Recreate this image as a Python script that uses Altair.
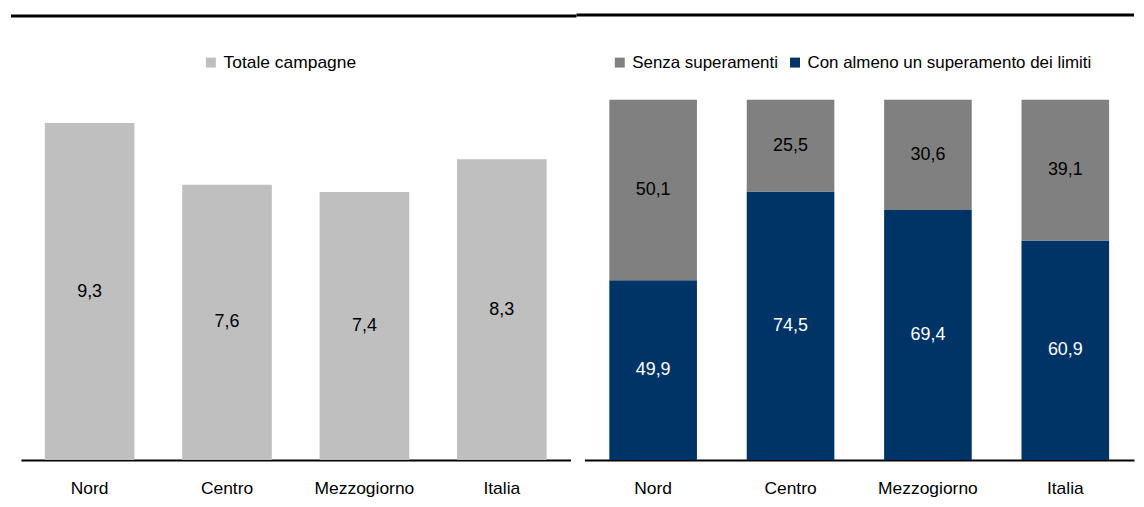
import altair as alt
import pandas as pd

regions = ["Nord", "Centro", "Mezzogiorno", "Italia"]
totale = [9.3, 7.6, 7.4, 8.3]
senza = [50.1, 25.5, 30.6, 39.1]
con = [49.9, 74.5, 69.4, 60.9]

s_tot = "Totale campagne"
s_senza = "Senza superamenti"
s_con = "Con almeno un superamento dei limiti"

FONT = "Liberation Sans, Arial, sans-serif"
FS = 17.5
GRAY_L = "#BFBFBF"
GRAY_D = "#808080"
NAVY = "#003366"

W, H = 552, 364

left_df = pd.DataFrame({"area": regions, "value": totale, "serie": [s_tot] * 4})
rows = []
for r, a, b in zip(regions, con, senza):
    rows.append({"area": r, "value": a, "serie": s_con, "ord": 0})
    rows.append({"area": r, "value": b, "serie": s_senza, "ord": 1})
right_df = pd.DataFrame(rows)
one = pd.DataFrame({"k": [0]})

lbl = "replace(format(datum.value, '.1f'), '.', ',')"

xaxis = alt.Axis(title=None, labelAngle=0, ticks=False, tickSize=0, domainColor="black",
                 domainWidth=2, labelFontSize=FS, labelColor="black", labelPadding=20,
                 labelFont=FONT)

def legend(x, fs):
    return alt.Legend(title=None, orient="none", legendX=x, legendY=-44,
                      direction="horizontal", symbolType="square", symbolSize=100,
                      symbolStrokeWidth=0, labelFontSize=fs, labelFont=FONT,
                      labelColor="black", labelOffset=4, columnPadding=8, labelLimit=0)

# ---- left panel
xl = alt.X("area:N", sort=regions, axis=xaxis,
           scale=alt.Scale(paddingInner=0.348, paddingOuter=0.174))
yl = alt.Y("value:Q", axis=None, scale=alt.Scale(domain=[0, 10], nice=False))

left_bars = alt.Chart(left_df).mark_bar(size=90).encode(
    x=xl, y=yl,
    color=alt.Color("serie:N", scale=alt.Scale(domain=[s_tot], range=[GRAY_L]),
                    legend=legend(182, FS))
)
left_text = alt.Chart(left_df).transform_calculate(
    lab=lbl, mid="datum.value/2"
).mark_text(fontSize=18, font=FONT, color="black").encode(
    x=alt.X("area:N", sort=regions), y=alt.Y("mid:Q"), text="lab:N"
)
left_rule = alt.Chart(one).mark_rule(color="black", strokeWidth=3).encode(
    x=alt.value(-10), x2=alt.value(558), y=alt.value(-82)
)
left = alt.layer(left_bars, left_text, left_rule).properties(width=W, height=H)

# ---- right panel
xr = alt.X("area:N", sort=regions, axis=xaxis,
           scale=alt.Scale(paddingInner=0.362, paddingOuter=0.181))
yr_scale = alt.Scale(domain=[0, 100.55], nice=False)

right_bars = alt.Chart(right_df).mark_bar(size=88).encode(
    x=xr,
    y=alt.Y("value:Q", axis=None, scale=yr_scale, stack="zero"),
    order=alt.Order("ord:Q"),
    color=alt.Color("serie:N", scale=alt.Scale(domain=[s_senza, s_con], range=[GRAY_D, NAVY]),
                    legend=legend(27, 17))
)
stacked = alt.Chart(right_df).transform_stack(
    stack="value", groupby=["area"], as_=["v0", "v1"], sort=[alt.SortField("ord")]
).transform_calculate(lab=lbl, mid="(datum.v0 + datum.v1) / 2")

right_text_con = stacked.transform_filter(f"datum.serie == '{s_con}'").mark_text(
    fontSize=18, font=FONT, color="white").encode(
    x=alt.X("area:N", sort=regions), y=alt.Y("mid:Q", scale=yr_scale), text="lab:N")
right_text_senza = stacked.transform_filter(f"datum.serie == '{s_senza}'").mark_text(
    fontSize=18, font=FONT, color="black").encode(
    x=alt.X("area:N", sort=regions), y=alt.Y("mid:Q", scale=yr_scale), text="lab:N")
right_rule = alt.Chart(one).mark_rule(color="black", strokeWidth=3).encode(
    x=alt.value(-8), x2=alt.value(552), y=alt.value(-83)
)
right = alt.layer(right_bars, right_text_con, right_text_senza, right_rule).properties(
    width=W, height=H)

chart = alt.hconcat(left, right, spacing=14, bounds="flush").resolve_scale(
    color="independent", x="independent", y="independent"
).resolve_legend(color="independent").properties(
    padding={"left": 1, "top": 4, "right": 0, "bottom": 0}
).configure(font=FONT).configure_view(strokeWidth=0, stroke="transparent")

chart.save("out.html", embed_options={"renderer": "svg", "actions": False})
